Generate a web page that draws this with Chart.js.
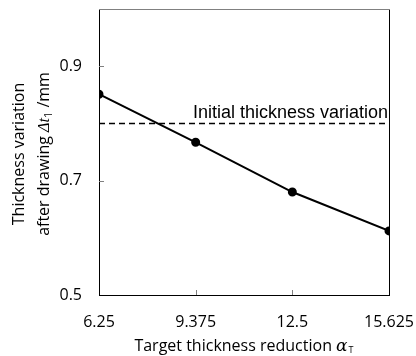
<!DOCTYPE html>
<html>
<head>
<meta charset="utf-8">
<script src="https://cdn.jsdelivr.net/npm/chart.js@4"></script>
<style>
  html, body { margin: 0; padding: 0; background: #fff; }
  #wrap { width: 416px; height: 356px; }
</style>
</head>
<body>
<div id="wrap"><canvas id="chart" width="416" height="356"></canvas></div>
<script>
var reduction = [6.25, 9.375, 12.5, 15.625];
var variation = [0.851, 0.767, 0.680, 0.612];
var initialVariation = 0.8;
var yTicks = [0.5, 0.7, 0.9];
var xTicks = [6.25, 9.375, 12.5, 15.625];
var refLabel = 'Initial thickness variation';

var tickFont = '"Open Sans", sans-serif';

// extras: top/right border, inward ticks, reference label, axis titles
var extras = {
    id: 'extras',
    afterDraw: function (chart) {
        var c = chart.ctx, a = chart.chartArea;
        var xs = chart.scales.x, ys = chart.scales.y;
        c.save();
        c.strokeStyle = '#000';
        c.lineWidth = 1;
        c.beginPath();
        c.moveTo(a.right + 0.5, a.top);
        c.lineTo(a.right + 0.5, a.bottom);
        c.stroke();

        c.strokeStyle = '#808080';
        c.beginPath();
        c.moveTo(a.left, a.top + 0.5);
        c.lineTo(a.right + 1, a.top + 0.5);
        xTicks.slice(1, -1).forEach(function (v) {
            var px = Math.round(xs.getPixelForValue(v)) + 0.5;
            c.moveTo(px, a.bottom);
            c.lineTo(px, a.bottom - 5);
        });
        yTicks.slice(1).forEach(function (v) {
            var py = Math.round(ys.getPixelForValue(v)) + 0.5;
            c.moveTo(a.left, py);
            c.lineTo(a.left + 5, py);
        });
        c.stroke();

        c.fillStyle = '#000';
        c.font = '18px "Liberation Sans", Arial, sans-serif';
        c.textAlign = 'right';
        c.textBaseline = 'alphabetic';
        c.fillText(refLabel, a.right - 1, ys.getPixelForValue(initialVariation) - 5);

        // x title
        c.font = '16px ' + tickFont;
        c.textAlign = 'left';
        var t1 = 'Target thickness reduction ';
        var w1 = c.measureText(t1).width;
        c.font = 'italic 17px "DejaVu Serif", serif';
        var w2 = c.measureText('α').width;
        var total = w1 + w2 + 6;
        var x0 = (a.left + a.right) / 2 - total / 2;
        var yb = 351;
        c.font = '16px ' + tickFont;
        c.fillText(t1, x0, yb);
        c.font = 'italic 17px "DejaVu Serif", serif';
        c.fillText('α', x0 + w1, yb);
        c.font = '9px ' + tickFont;
        c.fillText('T', x0 + w1 + w2 + 1, yb + 2);

        // y title (two lines, rotated)
        c.translate(0, (a.top + a.bottom) / 2 + 2);
        c.rotate(-Math.PI / 2);
        c.textAlign = 'left';
        c.font = '16px ' + tickFont;
        var l1 = 'Thickness variation';
        c.fillText(l1, -c.measureText(l1).width / 2, 24);
        var p1 = 'after drawing ';
        var p2 = 'Δt';
        var p4 = ' /mm';
        var wp1 = c.measureText(p1).width;
        c.font = 'italic 16px "Liberation Serif", serif';
        var wp2 = c.measureText(p2).width;
        c.font = '11px ' + tickFont;
        var wp3 = c.measureText('1').width;
        c.font = '16px ' + tickFont;
        var wp4 = c.measureText(p4).width;
        var lx = -(wp1 + wp2 + wp3 + wp4) / 2;
        c.fillText(p1, lx, 49);
        c.font = 'italic 16px "Liberation Serif", serif';
        c.fillText(p2, lx + wp1, 49);
        c.font = '11px ' + tickFont;
        c.fillText('1', lx + wp1 + wp2, 52);
        c.font = '16px ' + tickFont;
        c.fillText(p4, lx + wp1 + wp2 + wp3, 49);
        c.restore();
    }
};

var ctx = document.getElementById('chart').getContext('2d');

var myChart = new Chart(ctx, {
    type: 'scatter',
    data: {
        datasets: [
            {
                label: 'Thickness variation',
                data: reduction.map((x, i) => ({ x: x, y: variation[i] })),
                showLine: true,
                borderColor: '#000',
                backgroundColor: '#000',
                borderWidth: 2,
                pointRadius: 3.5,
                pointHoverRadius: 3.5,
                order: 1
            },
            {
                label: 'Initial thickness variation',
                data: [
                    { x: reduction[0], y: initialVariation },
                    { x: reduction[reduction.length - 1], y: initialVariation }
                ],
                showLine: true,
                borderColor: '#000',
                borderWidth: 1.5,
                borderDash: [6, 4],
                pointRadius: 0,
                order: 2
            }
        ]
    },
    options: {
        responsive: false,
        animation: false,
        layout: {
            padding: { left: 0, right: 27, top: 9, bottom: 0 }
        },
        plugins: {
            legend: { display: false },
            tooltip: { enabled: false }
        },
        scales: {
            x: {
                type: 'linear',
                min: 6.25,
                max: 15.625,
                afterBuildTicks: function (scale) {
                    scale.ticks = xTicks.map(v => ({ value: v }));
                },
                afterFit: function (scale) {
                    scale.height = 61;
                    scale.paddingLeft = 0;
                    scale.paddingRight = 0;
                },
                ticks: {
                    padding: 18,
                    maxRotation: 0,
                    font: { family: tickFont, size: 16 },
                    color: '#000',
                    callback: function (v) { return String(v); }
                },
                grid: {
                    drawOnChartArea: false,
                    drawTicks: false
                },
                border: { color: '#000', width: 1 }
            },
            y: {
                min: 0.5,
                max: 1.0,
                afterBuildTicks: function (scale) {
                    scale.ticks = yTicks.map(v => ({ value: v }));
                },
                afterFit: function (scale) {
                    scale.width = 99;
                    scale.paddingTop = 0;
                    scale.paddingBottom = 0;
                },
                ticks: {
                    padding: 17,
                    font: { family: tickFont, size: 16 },
                    color: '#000',
                    callback: function (v) { return v.toFixed(1); }
                },
                grid: {
                    drawOnChartArea: false,
                    drawTicks: false
                },
                border: { color: '#000', width: 1 }
            }
        }
    },
    plugins: [extras]
});
</script>
</body>
</html>
